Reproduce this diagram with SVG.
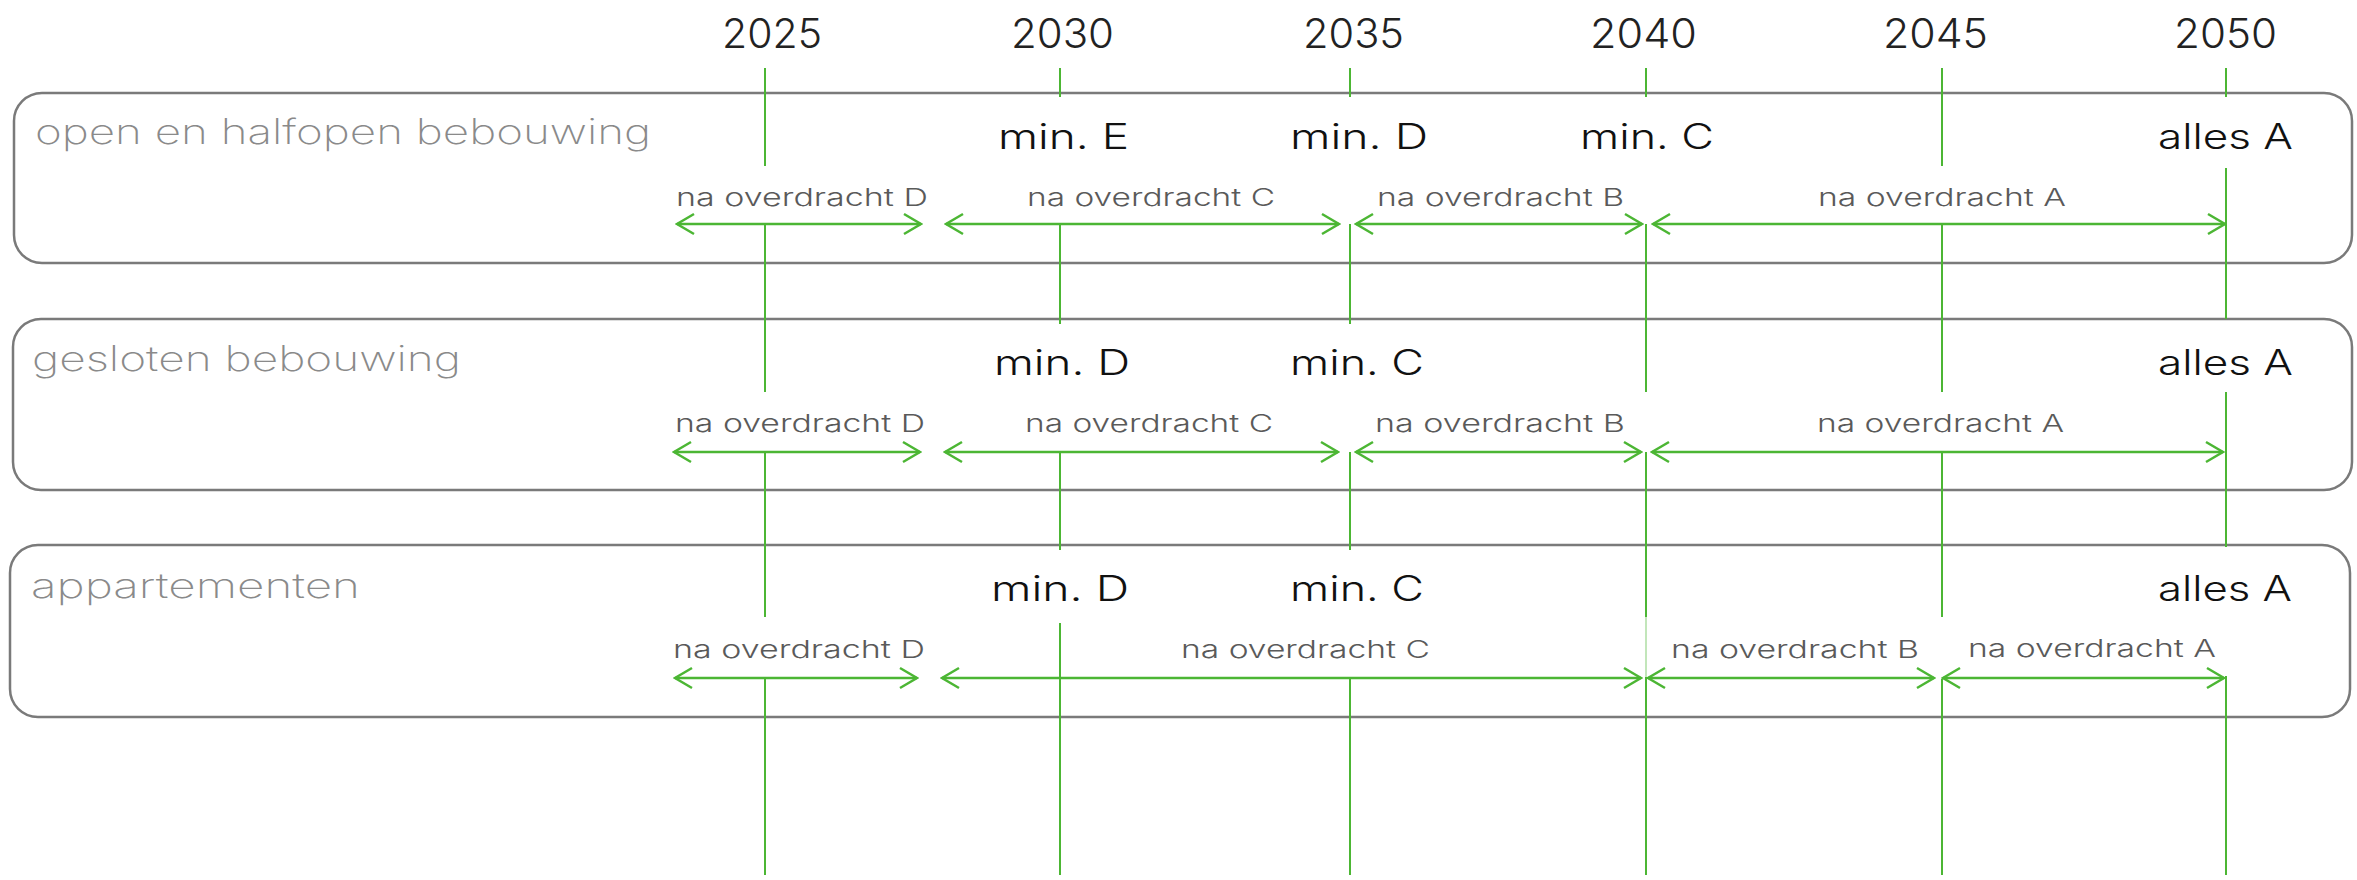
<svg xmlns="http://www.w3.org/2000/svg" width="2357" height="880" viewBox="0 0 2357 880">
  <style>
    .box { fill: #ffffff; stroke: #7a7a7a; stroke-width: 2.5; }
    .row-title { font-family: "Inter", "Lato", "Liberation Sans", sans-serif; font-weight: 200; font-size: 35px; fill: #8a8a8a; }
    .year { font-family: "Inter", "Lato", "Liberation Sans", sans-serif; font-weight: 300; font-size: 41px; fill: #222222; }
    .level { font-family: "Inter", "Lato", "Liberation Sans", sans-serif; font-weight: 300; font-size: 35px; fill: #111111; }
    .span-label { font-family: "Inter", "Lato", "Liberation Sans", sans-serif; font-weight: 300; font-size: 24px; fill: #5a5a5a; }
    .tick { stroke: #4cb634; stroke-width: 2; fill: none; }
    .span { stroke: #4cb634; stroke-width: 2.5; fill: none; marker-start: url(#chev); marker-end: url(#chev); }
  </style>
  <defs>
    <marker id="chev" viewBox="-20 -12 22 24" refX="0" refY="0" markerWidth="22" markerHeight="24" markerUnits="userSpaceOnUse" orient="auto-start-reverse">
      <path d="M -17 -10 L 0 0 L -17 10" fill="none" stroke="#4cb634" stroke-width="2.5"/>
    </marker>
  </defs>

  <rect width="2357" height="880" fill="#ffffff"/>

  <!-- row frames -->
  <g id="row-open">
    <rect class="box" x="14" y="93" width="2338" height="170" rx="28" ry="28"/>
  </g>
  <g id="row-gesloten">
    <rect class="box" x="13" y="319" width="2339" height="171" rx="28" ry="28"/>
  </g>
  <g id="row-appartementen">
    <rect class="box" x="10" y="545" width="2340" height="172" rx="28" ry="28"/>
  </g>

  <!-- timeline ticks and transfer spans -->
  <g id="connectors">
    <!-- 2025 -->
    <path class="tick" d="M765 68 V166 M765 224 V392 M765 452 V617 M765 679 V875"/>
    <!-- 2030 -->
    <path class="tick" d="M1060 68 V97 M1060 224 V324 M1060 452 V550 M1060 623 V875"/>
    <!-- 2035 -->
    <path class="tick" d="M1350 68 V97 M1350 224 V324 M1350 452 V550 M1350 679 V875"/>
    <!-- 2040 -->
    <path class="tick" d="M1646 68 V97 M1646 224 V392 M1646 452 V617 M1646 677 V875"/>
    <path d="M1646 617 V677" stroke="#4cb634" stroke-width="1.5" stroke-opacity="0.45"/>
    <!-- 2045 -->
    <path class="tick" d="M1942 68 V166 M1942 224 V392 M1942 452 V617 M1942 679 V875"/>
    <!-- 2050 -->
    <path class="tick" d="M2226 68 V97 M2226 168 V319 M2226 392 V547 M2226 676 V875"/>

    <!-- row 1 spans -->
    <line class="span" x1="677" y1="224" x2="921" y2="224"/>
    <line class="span" x1="946" y1="224" x2="1339" y2="224"/>
    <line class="span" x1="1356" y1="224" x2="1642" y2="224"/>
    <line class="span" x1="1653" y1="224" x2="2225" y2="224"/>
    <!-- row 2 spans -->
    <line class="span" x1="674" y1="452" x2="920" y2="452"/>
    <line class="span" x1="945" y1="452" x2="1338" y2="452"/>
    <line class="span" x1="1356" y1="452" x2="1641" y2="452"/>
    <line class="span" x1="1652" y1="452" x2="2223" y2="452"/>
    <!-- row 3 spans -->
    <line class="span" x1="675" y1="678" x2="917" y2="678"/>
    <line class="span" x1="942" y1="678" x2="1641" y2="678"/>
    <line class="span" x1="1648" y1="678" x2="1934" y2="678"/>
    <line class="span" x1="1943" y1="678" x2="2224" y2="678"/>
  </g>

  <!-- year axis -->
  <g id="years">
    <text class="year" x="722" y="48" textLength="100" lengthAdjust="spacingAndGlyphs">2025</text>
    <text class="year" x="1011" y="48" textLength="103" lengthAdjust="spacingAndGlyphs">2030</text>
    <text class="year" x="1303" y="48" textLength="101" lengthAdjust="spacingAndGlyphs">2035</text>
    <text class="year" x="1590" y="48" textLength="107" lengthAdjust="spacingAndGlyphs">2040</text>
    <text class="year" x="1883" y="48" textLength="105" lengthAdjust="spacingAndGlyphs">2045</text>
    <text class="year" x="2174" y="48" textLength="103" lengthAdjust="spacingAndGlyphs">2050</text>
  </g>

  <!-- row 1 texts -->
  <g id="row-open-text">
    <text class="row-title" x="35" y="143.5" textLength="616" lengthAdjust="spacingAndGlyphs">open en halfopen bebouwing</text>
    <text class="level" x="998" y="148.5" textLength="131" lengthAdjust="spacingAndGlyphs">min. E</text>
    <text class="level" x="1290" y="148.5" textLength="138" lengthAdjust="spacingAndGlyphs">min. D</text>
    <text class="level" x="1580" y="148.5" textLength="134" lengthAdjust="spacingAndGlyphs">min. C</text>
    <text class="level" x="2158" y="148.5" textLength="135" lengthAdjust="spacingAndGlyphs">alles A</text>
    <text class="span-label" x="676" y="205.5" textLength="252" lengthAdjust="spacingAndGlyphs">na overdracht D</text>
    <text class="span-label" x="1027" y="205.5" textLength="248" lengthAdjust="spacingAndGlyphs">na overdracht C</text>
    <text class="span-label" x="1377" y="205.5" textLength="247" lengthAdjust="spacingAndGlyphs">na overdracht B</text>
    <text class="span-label" x="1818" y="205.5" textLength="248" lengthAdjust="spacingAndGlyphs">na overdracht A</text>
  </g>

  <!-- row 2 texts -->
  <g id="row-gesloten-text">
    <text class="row-title" x="32" y="371" textLength="429" lengthAdjust="spacingAndGlyphs">gesloten bebouwing</text>
    <text class="level" x="994" y="374.5" textLength="136" lengthAdjust="spacingAndGlyphs">min. D</text>
    <text class="level" x="1290" y="374.5" textLength="134" lengthAdjust="spacingAndGlyphs">min. C</text>
    <text class="level" x="2158" y="374.5" textLength="135" lengthAdjust="spacingAndGlyphs">alles A</text>
    <text class="span-label" x="675" y="432" textLength="250" lengthAdjust="spacingAndGlyphs">na overdracht D</text>
    <text class="span-label" x="1025" y="432" textLength="248" lengthAdjust="spacingAndGlyphs">na overdracht C</text>
    <text class="span-label" x="1375" y="432" textLength="250" lengthAdjust="spacingAndGlyphs">na overdracht B</text>
    <text class="span-label" x="1817" y="432" textLength="247" lengthAdjust="spacingAndGlyphs">na overdracht A</text>
  </g>

  <!-- row 3 texts -->
  <g id="row-appartementen-text">
    <text class="row-title" x="31" y="597.5" textLength="329" lengthAdjust="spacingAndGlyphs">appartementen</text>
    <text class="level" x="991" y="600.5" textLength="138" lengthAdjust="spacingAndGlyphs">min. D</text>
    <text class="level" x="1290" y="600.5" textLength="134" lengthAdjust="spacingAndGlyphs">min. C</text>
    <text class="level" x="2158" y="600.5" textLength="134" lengthAdjust="spacingAndGlyphs">alles A</text>
    <text class="span-label" x="673" y="658" textLength="252" lengthAdjust="spacingAndGlyphs">na overdracht D</text>
    <text class="span-label" x="1181" y="658" textLength="249" lengthAdjust="spacingAndGlyphs">na overdracht C</text>
    <text class="span-label" x="1671" y="657.5" textLength="248" lengthAdjust="spacingAndGlyphs">na overdracht B</text>
    <text class="span-label" x="1968" y="657" textLength="248" lengthAdjust="spacingAndGlyphs">na overdracht A</text>
  </g>
</svg>
